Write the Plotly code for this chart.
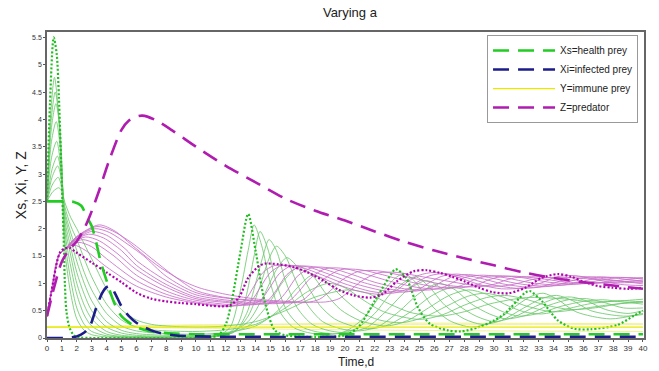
import plotly.graph_objects as go

# ---------------- data ----------------
# Main (dashed) trajectories
t_xs = [0, 1, 1.3, 1.8, 2.3, 2.7, 3.0, 3.3, 3.6, 4.0, 4.5, 5.0, 6.0, 7.0, 8.0, 10, 15, 20, 25, 30, 35, 40]
xs = [2.5, 2.5, 2.5, 2.49, 2.42, 2.2, 2.05, 1.75, 1.4, 1.05, 0.65, 0.4, 0.2, 0.12, 0.09, 0.07, 0.07, 0.07, 0.07, 0.07, 0.07, 0.07]

t_xi = [0, 1, 1.5, 2, 2.5, 2.9, 3.3, 3.7, 4.0, 4.25, 4.6, 5.0, 5.5, 6.0, 6.5, 7.0, 7.6, 8.5, 10, 15, 20, 30, 40]
xi = [0, 0, 0.005, 0.03, 0.1, 0.23, 0.55, 0.82, 0.93, 0.95, 0.8, 0.58, 0.4, 0.28, 0.2, 0.14, 0.09, 0.05, 0.03, 0.02, 0.02, 0.02, 0.02]

t_z = [0, 0.5, 1, 1.5, 2, 2.5, 2.9, 3.5, 4.2, 5.0, 5.5, 6.0, 6.4, 7.2, 8.4, 10, 12, 14, 16, 18, 20, 22, 24, 26, 28, 30, 32, 34, 36, 38, 40]
z = [0.4, 0.95, 1.4, 1.62, 1.77, 2.0, 2.25, 2.7, 3.27, 3.81, 3.98, 4.05, 4.07, 4.0, 3.8, 3.5, 3.15, 2.85, 2.55, 2.33, 2.15, 1.95, 1.76, 1.6, 1.46, 1.33, 1.2, 1.1, 1.02, 0.96, 0.9]

t_y = [0, 10, 20, 30, 40]
y_main = [0.2, 0.2, 0.2, 0.2, 0.2]
y_run_a = [0.2, 0.24, 0.25, 0.25, 0.25]
y_run_b = [0.2, 0.18, 0.15, 0.13, 0.12]
y_run_c = [0.2, 0.23, 0.27, 0.27, 0.26]

# Extreme run (dotted)
t_gd = [0, 0.2, 0.45, 0.65, 0.8, 0.95, 1.1, 1.2, 1.3, 1.5, 1.8, 2.2, 3, 6, 10, 11.5, 12, 12.4, 13, 13.5, 14, 14.6, 15.3, 16, 18, 20, 20.9, 22, 23.1, 23.4, 24.1, 24.9, 25.7, 26.9, 27.8, 29, 30, 30.7, 32.1, 32.4, 33.2, 34.3, 35.4, 36.5, 38.3, 39.4, 40]
g_dot = [2.5, 4.3, 5.5, 5.2, 4.4, 3.2, 2.0, 1.0, 0.5, 0.2, 0.05, 0.01, 0.0, 0.0, 0.0, 0.05, 0.25, 0.68, 1.6, 2.27, 1.6, 0.68, 0.14, 0.05, 0.02, 0.05, 0.2, 0.68, 1.17, 1.26, 1.1, 0.56, 0.26, 0.14, 0.12, 0.2, 0.32, 0.44, 0.83, 0.86, 0.68, 0.32, 0.17, 0.16, 0.24, 0.41, 0.5]

t_md = [0, 0.3, 0.6, 0.9, 1.2, 1.5, 2, 3, 4, 5, 6, 7, 8, 9, 10, 11, 11.8, 12.3, 12.9, 13.5, 14.2, 14.6, 15.5, 16.5, 17.5, 18.6, 19.6, 20.6, 21.7, 22.5, 23.5, 24.6, 25.5, 26.4, 27.2, 28, 29, 29.9, 31, 32.1, 33.2, 34.3, 35.2, 36, 37, 38, 39, 40]
m_dot = [0.4, 0.85, 1.3, 1.58, 1.64, 1.65, 1.56, 1.38, 1.2, 1.02, 0.83, 0.72, 0.67, 0.64, 0.62, 0.59, 0.58, 0.6, 0.75, 1.1, 1.31, 1.36, 1.35, 1.3, 1.2, 1.04, 0.88, 0.78, 0.74, 0.8, 1.04, 1.22, 1.24, 1.19, 1.12, 1.04, 0.92, 0.84, 0.82, 0.92, 1.1, 1.17, 1.12, 1.03, 0.95, 0.92, 0.9, 0.92]

# Other runs, healthy prey (solid, light green)
t_sg1 = [0, 0.2, 0.5, 0.8, 1.0, 1.2, 1.6, 2, 2.5, 3, 4, 6, 9, 11.5, 12.3, 13, 13.5, 13.9, 14.4, 15, 15.7, 16.5, 17.5, 18.8, 20, 21.2, 22.3, 23.3, 24.0, 24.8, 25.8, 27, 28.5, 30, 31.3, 32.4, 33.3, 34.3, 35.5, 37.8, 40]
sg1 = [2.5, 3.9, 4.77, 4.0, 2.7, 1.6, 0.8, 0.35, 0.14, 0.06, 0.02, 0.01, 0.01, 0.05, 0.2, 0.9, 1.6, 2.07, 1.7, 1.0, 0.45, 0.2, 0.1, 0.06, 0.12, 0.35, 0.75, 1.08, 1.18, 1.0, 0.6, 0.32, 0.2, 0.3, 0.55, 0.75, 0.82, 0.7, 0.48, 0.35, 0.45]
t_sg2 = [0, 0.25, 0.55, 0.85, 1.2, 1.6, 2, 2.5, 3, 4, 5, 7, 10, 12, 12.8, 13.4, 13.9, 14.3, 14.8, 15.4, 16.1, 17, 18, 19.5, 20.8, 22, 23.2, 24.7, 25.6, 26.7, 28, 29.2, 30.5, 32, 33.2, 34.2, 35.3, 36.5, 38.7, 40]
sg2 = [2.5, 3.9, 4.5, 3.9, 1.8, 1.05, 0.55, 0.25, 0.12, 0.04, 0.02, 0.01, 0.01, 0.06, 0.25, 0.8, 1.5, 1.95, 1.65, 1.0, 0.5, 0.22, 0.12, 0.08, 0.18, 0.45, 0.85, 1.12, 0.95, 0.6, 0.35, 0.25, 0.32, 0.55, 0.72, 0.78, 0.68, 0.5, 0.4, 0.43]
t_sg3 = [0, 0.3, 0.6, 0.9, 1.2, 1.6, 2, 2.5, 3, 4, 5, 6, 8, 11, 12.6, 13.4, 14, 14.5, 14.9, 15.4, 16, 16.8, 17.8, 19, 20.2, 21.5, 22.8, 24.2, 25.5, 26.5, 27.6, 28.8, 30, 31.3, 32.8, 34.1, 35.2, 36.3, 37.5, 39, 40]
sg3 = [2.5, 3.85, 4.29, 3.7, 1.95, 1.3, 0.8, 0.42, 0.22, 0.07, 0.03, 0.02, 0.01, 0.02, 0.12, 0.45, 1.0, 1.5, 1.8, 1.6, 1.05, 0.55, 0.25, 0.13, 0.1, 0.2, 0.5, 0.88, 1.05, 0.9, 0.6, 0.4, 0.3, 0.38, 0.58, 0.72, 0.75, 0.67, 0.52, 0.45, 0.5]
t_sg4 = [0, 0.3, 0.62, 0.95, 1.2, 1.6, 2, 2.5, 3, 4, 5, 6, 8, 11, 12.5, 13.5, 14.3, 14.9, 15.4, 16, 16.7, 17.5, 18.5, 19.7, 21, 22.3, 23.6, 25, 26.3, 27.4, 28.5, 29.7, 30.8, 32.2, 33.7, 35, 36.2, 37.4, 38.7, 40]
sg4 = [2.5, 3.6, 3.96, 3.3, 2.05, 1.5, 1.0, 0.6, 0.35, 0.12, 0.05, 0.03, 0.02, 0.03, 0.1, 0.4, 0.95, 1.45, 1.68, 1.5, 1.05, 0.6, 0.3, 0.17, 0.13, 0.22, 0.48, 0.82, 1.0, 0.88, 0.62, 0.44, 0.35, 0.42, 0.6, 0.7, 0.72, 0.65, 0.55, 0.55]
t_sg5 = [0, 0.3, 0.65, 0.95, 1.2, 1.6, 2, 2.5, 3, 4, 5, 6, 8, 10, 12, 13.5, 14.5, 15.4, 16.1, 16.8, 17.5, 18.3, 19.3, 20.5, 21.8, 23, 24.4, 25.8, 27.2, 28.3, 29.4, 30.6, 31.7, 33, 34.5, 36, 37.3, 38.6, 40]
sg5 = [2.5, 3.3, 3.6, 3.05, 2.15, 1.65, 1.2, 0.8, 0.5, 0.2, 0.09, 0.05, 0.03, 0.03, 0.07, 0.3, 0.75, 1.25, 1.47, 1.3, 0.95, 0.6, 0.35, 0.22, 0.17, 0.25, 0.48, 0.77, 0.93, 0.85, 0.65, 0.48, 0.4, 0.45, 0.58, 0.67, 0.7, 0.66, 0.62]
t_sg6 = [0, 0.35, 0.7, 1.0, 1.2, 1.6, 2, 2.5, 3, 4, 5, 6, 8, 10, 12, 13.5, 14.8, 15.9, 16.9, 17.8, 18.7, 19.7, 21, 22.8, 24.2, 25.6, 27, 28.3, 29.5, 30.7, 32, 33.2, 34.7, 36.5, 38.5, 40]
sg6 = [2.5, 3.1, 3.33, 2.9, 2.25, 1.8, 1.4, 1.0, 0.68, 0.3, 0.14, 0.08, 0.05, 0.05, 0.08, 0.22, 0.6, 1.05, 1.3, 1.15, 0.82, 0.52, 0.32, 0.22, 0.32, 0.55, 0.78, 0.88, 0.8, 0.62, 0.48, 0.44, 0.52, 0.63, 0.68, 0.66]
t_sg7 = [0, 0.35, 0.72, 1.0, 1.2, 1.6, 2, 2.5, 3, 4, 5, 6, 8, 10, 12, 14, 15.5, 16.8, 17.8, 18.8, 19.8, 21, 22.3, 23.8, 25.3, 26.8, 28.2, 29.4, 30.6, 32, 33.9, 35.5, 37.5, 39.8, 40]
sg7 = [2.5, 2.95, 3.15, 2.85, 2.32, 1.92, 1.6, 1.2, 0.88, 0.45, 0.22, 0.13, 0.08, 0.07, 0.1, 0.22, 0.5, 0.92, 1.15, 1.02, 0.75, 0.48, 0.33, 0.28, 0.38, 0.58, 0.76, 0.82, 0.75, 0.6, 0.48, 0.52, 0.6, 0.66, 0.66]
t_sg8 = [0, 0.35, 0.75, 1.0, 1.2, 1.6, 2, 2.5, 3, 4, 5, 6, 7, 8, 10, 12, 14, 16, 17.5, 18.9, 20, 21.2, 22.6, 25, 26.5, 28, 29.5, 30.7, 32, 33.5, 35.2, 37, 38.5, 40]
sg8 = [2.5, 2.8, 2.94, 2.75, 2.4, 2.05, 1.8, 1.45, 1.12, 0.62, 0.33, 0.2, 0.15, 0.13, 0.12, 0.15, 0.25, 0.55, 0.85, 1.0, 0.92, 0.7, 0.48, 0.34, 0.42, 0.6, 0.74, 0.78, 0.72, 0.6, 0.52, 0.56, 0.63, 0.66]
t_sg9 = [0, 0.4, 0.8, 1.0, 1.2, 1.6, 2, 2.5, 3, 4, 5, 6, 7, 8, 10, 12, 14, 16, 18, 20.2, 21.5, 23, 24.5, 26.4, 28, 29.8, 32.2, 34.5, 36.7, 38.5, 40]
sg9 = [2.5, 2.68, 2.75, 2.68, 2.48, 2.2, 2.0, 1.72, 1.45, 0.9, 0.52, 0.33, 0.25, 0.22, 0.2, 0.22, 0.3, 0.5, 0.75, 0.88, 0.82, 0.62, 0.46, 0.4, 0.48, 0.63, 0.74, 0.72, 0.66, 0.68, 0.71]

# Other runs, predator (solid, light magenta)
t_sm1 = [0, 0.4, 0.8, 1.2, 1.8, 2.6, 4, 6, 8, 10, 12.4, 13.3, 13.9, 14.5, 15.3, 16.5, 18, 19.5, 21, 22.5, 23.5, 24.2, 25, 26, 27.5, 29, 30.5, 32, 33.3, 34.2, 35.5, 37, 38.5, 40]
sm1 = [0.4, 1.0, 1.52, 1.62, 1.7, 1.6, 1.3, 0.95, 0.75, 0.64, 0.58, 0.7, 0.95, 1.2, 1.33, 1.3, 1.15, 0.98, 0.85, 0.8, 0.88, 1.03, 1.15, 1.2, 1.12, 0.98, 0.9, 0.92, 1.02, 1.12, 1.14, 1.06, 0.98, 0.96]
t_sm2 = [0, 0.4, 0.8, 1.2, 2.1, 3, 4, 6, 8, 10, 12.8, 13.7, 14.3, 15, 15.8, 17, 18.5, 20, 21.8, 23.2, 24.2, 24.9, 25.7, 26.7, 28.2, 29.8, 31.5, 33, 34.2, 35, 36.3, 38, 40]
sm2 = [0.4, 1.0, 1.52, 1.62, 1.75, 1.67, 1.45, 1.05, 0.8, 0.66, 0.59, 0.68, 0.92, 1.2, 1.33, 1.3, 1.15, 0.99, 0.85, 0.82, 0.9, 1.03, 1.14, 1.18, 1.1, 0.98, 0.91, 0.93, 1.02, 1.1, 1.12, 1.06, 0.99]
t_sm3 = [0, 0.4, 0.8, 1.2, 1.8, 2.4, 3.3, 4.5, 6, 8, 10, 13.4, 14.3, 14.9, 15.6, 16.4, 17.5, 19, 20.6, 22.5, 24, 25, 25.7, 26.5, 27.5, 29, 30.6, 32.3, 33.8, 35, 35.9, 37.2, 39, 40]
sm3 = [0.4, 1.0, 1.52, 1.62, 1.74, 1.8, 1.72, 1.5, 1.15, 0.86, 0.69, 0.6, 0.68, 0.9, 1.18, 1.32, 1.3, 1.16, 1.0, 0.87, 0.84, 0.9, 1.02, 1.13, 1.17, 1.1, 0.99, 0.93, 0.95, 1.03, 1.1, 1.12, 1.07, 1.04]
t_sm4 = [0, 0.4, 0.8, 1.2, 1.8, 2.6, 3.5, 4.7, 6, 8, 10, 12, 13.9, 14.8, 15.4, 16.1, 17, 18.2, 19.7, 21.3, 23.3, 24.8, 25.8, 26.5, 27.3, 28.3, 29.8, 31.5, 33.2, 34.7, 36, 37, 38.5, 40]
sm4 = [0.4, 1.0, 1.52, 1.62, 1.76, 1.85, 1.78, 1.55, 1.25, 0.93, 0.72, 0.65, 0.61, 0.68, 0.88, 1.16, 1.31, 1.29, 1.16, 1.01, 0.88, 0.86, 0.92, 1.03, 1.13, 1.16, 1.1, 1.0, 0.95, 0.97, 1.04, 1.1, 1.11, 1.08]
t_sm5 = [0, 0.4, 0.8, 1.2, 1.8, 2.8, 3.8, 5, 6, 8, 10, 12, 14.6, 15.5, 16.1, 16.8, 17.8, 19, 20.5, 22, 24, 25.7, 26.7, 27.4, 28.2, 29.3, 30.8, 32.5, 34.2, 35.7, 37, 38.2, 40]
sm5 = [0.4, 1.0, 1.52, 1.62, 1.78, 1.9, 1.83, 1.6, 1.33, 0.98, 0.75, 0.67, 0.62, 0.68, 0.86, 1.13, 1.29, 1.28, 1.16, 1.02, 0.9, 0.88, 0.94, 1.04, 1.12, 1.15, 1.1, 1.01, 0.97, 0.99, 1.05, 1.1, 1.1]
t_sm6 = [0, 0.4, 0.8, 1.2, 1.9, 3.0, 4, 5.3, 6, 8, 10, 12.5, 15.4, 16.3, 16.9, 17.7, 18.7, 20, 21.5, 23, 25, 26.8, 27.8, 28.5, 29.3, 30.4, 32, 33.7, 35.4, 37, 38.5, 40]
sm6 = [0.4, 1.0, 1.52, 1.62, 1.8, 1.95, 1.88, 1.62, 1.42, 1.05, 0.79, 0.68, 0.63, 0.69, 0.85, 1.1, 1.27, 1.27, 1.16, 1.04, 0.92, 0.9, 0.96, 1.05, 1.12, 1.14, 1.1, 1.02, 0.99, 1.01, 1.06, 1.1]
t_sm7 = [0, 0.4, 0.8, 1.2, 1.9, 3.2, 4.2, 5.5, 6.5, 8, 10, 13, 16.3, 17.2, 17.8, 18.6, 19.7, 21, 22.5, 24, 26, 27.8, 28.9, 29.6, 30.4, 31.5, 33, 34.7, 36.5, 38, 40]
sm7 = [0.4, 1.0, 1.52, 1.62, 1.82, 2.0, 1.93, 1.7, 1.5, 1.13, 0.83, 0.7, 0.64, 0.7, 0.85, 1.08, 1.25, 1.25, 1.16, 1.05, 0.94, 0.92, 0.98, 1.06, 1.12, 1.13, 1.09, 1.03, 1.0, 1.02, 1.06]
t_sm8 = [0, 0.4, 0.8, 1.2, 2, 3.35, 4.4, 5.7, 7, 8.5, 10, 12, 14.5, 17.4, 18.3, 19, 19.8, 20.9, 22.2, 23.7, 25.3, 27.3, 29, 30.1, 30.8, 31.6, 32.8, 34.5, 36.5, 38.5, 40]
sm8 = [0.4, 1.0, 1.52, 1.62, 1.85, 2.04, 1.96, 1.74, 1.46, 1.14, 0.87, 0.74, 0.68, 0.65, 0.71, 0.86, 1.06, 1.22, 1.23, 1.15, 1.05, 0.95, 0.94, 0.99, 1.06, 1.11, 1.12, 1.08, 1.02, 1.01, 1.03]
t_sm9 = [0, 0.4, 0.8, 1.2, 2, 3.5, 4.6, 5.4, 6.5, 7.6, 9, 10.2, 12, 14.5, 18.7, 19.6, 20.3, 21.1, 22.2, 23.5, 25, 26.7, 28.5, 30.5, 31.6, 32.4, 33.3, 34.5, 36.5, 38.5, 40]
sm9 = [0.4, 1.0, 1.52, 1.62, 1.86, 2.07, 1.95, 1.77, 1.52, 1.29, 1.06, 0.92, 0.8, 0.7, 0.66, 0.72, 0.86, 1.04, 1.19, 1.2, 1.13, 1.05, 0.97, 0.95, 1.0, 1.06, 1.1, 1.11, 1.08, 1.04, 1.02]

x_ticks = list(range(0, 41))
y_ticks = [0, 0.5, 1, 1.5, 2, 2.5, 3, 3.5, 4, 4.5, 5, 5.5]
y_tick_text = ["0", "0.5", "1", "1.5", "2", "2.5", "3", "3.5", "4", "4.5", "5", "5.5"]

legend_names = ["Xs=health prey", "Xi=infected prey", "Y=immune prey", "Z=predator"]

# ---------------- figure ----------------
FONT = "Arial, 'Liberation Sans', sans-serif"
fig = go.Figure()

def add(tx, ty, color, width, dash="solid", name=None, show=False, rank=None, smooth=0.8):
    fig.add_trace(go.Scatter(
        x=tx, y=ty, mode="lines", name=name, showlegend=show,
        legendrank=rank if rank is not None else 1000,
        line=dict(color=color, width=width, dash=dash, shape="spline", smoothing=smooth),
        hoverinfo="skip"))

for yy in (y_run_a, y_run_b, y_run_c):
    add(t_y, yy, "#f2f28a", 1.0)

green_runs = [(t_sg1, sg1), (t_sg2, sg2), (t_sg3, sg3), (t_sg4, sg4), (t_sg5, sg5),
              (t_sg6, sg6), (t_sg7, sg7), (t_sg8, sg8), (t_sg9, sg9)]
mag_runs = [(t_sm1, sm1), (t_sm2, sm2), (t_sm3, sm3), (t_sm4, sm4), (t_sm5, sm5),
            (t_sm6, sm6), (t_sm7, sm7), (t_sm8, sm8), (t_sm9, sm9)]
for tx, ty in green_runs:
    add(tx, ty, "rgba(110,200,110,0.85)", 1.0)
for tx, ty in mag_runs:
    add(tx, ty, "rgba(200,110,200,0.85)", 1.0)

add(t_gd, g_dot, "#1fbf1f", 2.2, dash="2px,2px")
add(t_md, m_dot, "#b000b0", 2.2, dash="2px,2px")

add(t_y, y_main, "#e8e800", 1.3, name=legend_names[2], show=True, rank=3)
add(t_xs, xs, "#22cc22", 2.6, dash="16px,9px", name=legend_names[0], show=True, rank=1)
add(t_xi, xi, "#1c1c8a", 2.6, dash="16px,9px", name=legend_names[1], show=True, rank=2)
add(t_z, z, "#b01cb0", 2.6, dash="16px,9px", name=legend_names[3], show=True, rank=4)

fig.update_layout(
    width=659, height=371,
    margin=dict(l=47, r=11, t=32, b=33),
    paper_bgcolor="white", plot_bgcolor="white",
    font=dict(family=FONT, size=8, color="#333"),
    title=dict(text="Varying a", x=0.531, xanchor="center", y=0.966, yanchor="middle",
               font=dict(family=FONT, size=13, color="#222")),
    legend=dict(x=(642 - 47) / 601, y=0.99, xanchor="right", yanchor="top",
                bgcolor="white", bordercolor="#999", borderwidth=1,
                font=dict(family=FONT, size=10, color="#222"),
                itemwidth=62, tracegroupgap=0),
    showlegend=True,
)
fig.update_xaxes(range=[0, 40.07], tickvals=x_ticks, ticktext=[str(v) for v in x_ticks],
                 showgrid=False, zeroline=False, showline=True, linecolor="#666", linewidth=1.5,
                 mirror=True, ticks="outside", ticklen=2, tickcolor="#555",
                 tickfont=dict(size=8, color="#333"))
fig.update_yaxes(range=[0, 5.6], tickvals=y_ticks, ticktext=y_tick_text,
                 showgrid=False, zeroline=False, showline=True, linecolor="#666", linewidth=1.5,
                 mirror=True, ticks="outside", ticklen=2, tickcolor="#555",
                 tickfont=dict(size=7, color="#333"))

fig.add_annotation(text="Time,d", xref="paper", yref="paper",
                   x=(358 - 47) / 601, y=(338 - 362) / 306, showarrow=False,
                   xanchor="center", yanchor="middle",
                   font=dict(family=FONT, size=12, color="#222"))
fig.add_annotation(text="Xs, Xi, Y, Z", xref="paper", yref="paper",
                   x=(21 - 47) / 601, y=(338 - 185) / 306, showarrow=False, textangle=-90,
                   xanchor="center", yanchor="middle",
                   font=dict(family=FONT, size=14, color="#222"))

fig.write_html("out.html")
